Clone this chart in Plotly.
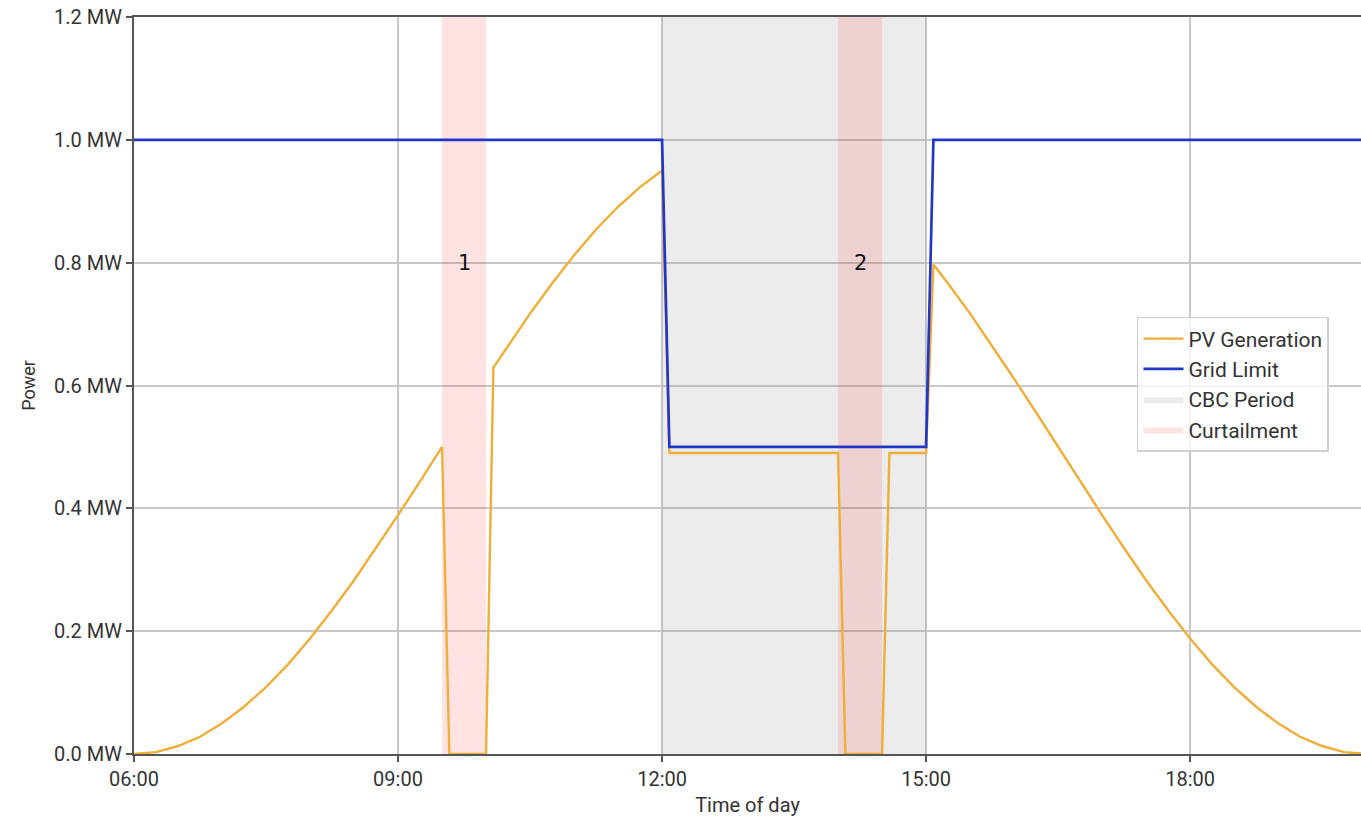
import plotly.graph_objects as go

DAY = "2024-01-01 "

# PV generation (MW)
pv_times = ["06:00", "06:15", "06:30", "06:45", "07:00", "07:15", "07:30", "07:45",
            "08:00", "08:15", "08:30", "08:45", "09:00", "09:15", "09:30", "09:35",
            "10:00", "10:05", "10:15", "10:30", "10:45", "11:00", "11:15", "11:30",
            "11:45", "12:00", "12:05", "14:00", "14:05", "14:30", "14:35", "15:00",
            "15:05", "15:15", "15:30", "15:45", "16:00", "16:15", "16:30", "16:45",
            "17:00", "17:15", "17:30", "17:45", "18:00", "18:15", "18:30", "18:45",
            "19:00", "19:15", "19:30", "19:45", "20:00"]
pv_values = [0.0, 0.003, 0.013, 0.028, 0.050, 0.077, 0.109, 0.146,
             0.188, 0.234, 0.283, 0.335, 0.389, 0.444, 0.500, 0.0,
             0.0, 0.629, 0.665, 0.717, 0.766, 0.812, 0.854, 0.891,
             0.923, 0.950, 0.490, 0.490, 0.0, 0.0, 0.490, 0.490,
             0.797, 0.766, 0.717, 0.665, 0.611, 0.556, 0.500, 0.444,
             0.389, 0.335, 0.283, 0.234, 0.188, 0.146, 0.109, 0.077,
             0.050, 0.028, 0.013, 0.003, 0.0]

# Grid limit (MW)
grid_times = ["06:00", "12:00", "12:05", "15:00", "15:05", "20:00"]
grid_values = [1.0, 1.0, 0.5, 0.5, 1.0, 1.0]

# Shaded periods
cbc_period = ("12:00", "15:00")
curtailment_windows = [("09:30", "10:00"), ("14:00", "14:30")]
curtailment_labels = ["1", "2"]
label_times = ["09:45", "14:15"]
label_level = 0.8

y_ticks = [0.0, 0.2, 0.4, 0.6, 0.8, 1.0, 1.2]
y_tick_labels = ["0.0 MW", "0.2 MW", "0.4 MW", "0.6 MW", "0.8 MW", "1.0 MW", "1.2 MW"]
y_max = 1.2
x_start, x_end = "06:00", "19:56:30"

TICK_FONT = dict(family="Roboto, 'Liberation Sans', sans-serif", size=20, color="#333333")


def t(s):
    return DAY + s


def band(windows):
    xs, ys = [], []
    for a, b in windows:
        xs += [t(a), t(b), t(b), t(a), t(a), None]
        ys += [0, 0, y_max, y_max, 0, None]
    return xs[:-1], ys[:-1]


fig = go.Figure()

cx, cy = band([cbc_period])
fig.add_trace(go.Scatter(x=cx, y=cy, fill="toself", mode="lines",
                         line=dict(width=0), fillcolor="rgba(128,128,128,0.15)",
                         name="CBC Period", legendrank=3, hoverinfo="skip"))
rx, ry = band(curtailment_windows)
fig.add_trace(go.Scatter(x=rx, y=ry, fill="toself", mode="lines",
                         line=dict(width=0), fillcolor="rgba(255,0,0,0.11)",
                         name="Curtailment", legendrank=4, hoverinfo="skip"))
fig.add_trace(go.Scatter(x=[t(s) for s in pv_times], y=pv_values, mode="lines",
                         line=dict(color="#F0AE38", width=2.4),
                         name="PV Generation", legendrank=1))
fig.add_trace(go.Scatter(x=[t(s) for s in grid_times], y=grid_values, mode="lines",
                         line=dict(color="#2236C8", width=2.7),
                         name="Grid Limit", legendrank=2))

for lab, lt in zip(curtailment_labels, label_times):
    fig.add_annotation(x=t(lt), y=label_level, text=lab, showarrow=False,
                       font=dict(family="DejaVu Sans", size=21, color="#111111"))

fig.update_layout(
    width=1361, height=822,
    margin=dict(l=134, r=0, t=17, b=68),
    plot_bgcolor="white", paper_bgcolor="white",
    font=TICK_FONT,
    legend=dict(x=0.8174, y=0.593, xanchor="left", yanchor="top",
                bgcolor="rgba(255,255,255,0.8)", bordercolor="#d0d0d0", borderwidth=1.5,
                font=dict(family="Roboto, sans-serif", size=21, color="#333333"),
                itemwidth=40, tracegroupgap=0),
    showlegend=True,
)

fig.update_xaxes(
    type="date", range=[t(x_start), t(x_end)],
    tick0=t("06:00"), dtick=3 * 3600 * 1000, tickformat="%H:%M",
    showgrid=True, gridcolor="#c8c8c8", gridwidth=1.6,
    showline=True, linecolor="#555555", linewidth=2, mirror=True,
    ticks="outside", ticklen=6, tickwidth=1.6, tickcolor="#555555",
    tickfont=TICK_FONT,
    title=dict(text="Time of day", font=TICK_FONT, standoff=8),
    zeroline=False,
)
fig.update_yaxes(
    range=[0, y_max], tickvals=y_ticks, ticktext=y_tick_labels,
    showgrid=True, gridcolor="#c8c8c8", gridwidth=1.6,
    showline=True, linecolor="#555555", linewidth=2, mirror=False,
    ticks="outside", ticklen=6, tickwidth=1.6, tickcolor="#555555",
    tickfont=TICK_FONT,
    title=dict(text="Power", font=dict(family="Roboto, sans-serif", size=18, color="#333333"), standoff=14),
    zeroline=False,
)

fig.write_html("out.html", config={"displayModeBar": False},
               post_script="document.body.style.margin='0';document.body.style.overflow='hidden';")
